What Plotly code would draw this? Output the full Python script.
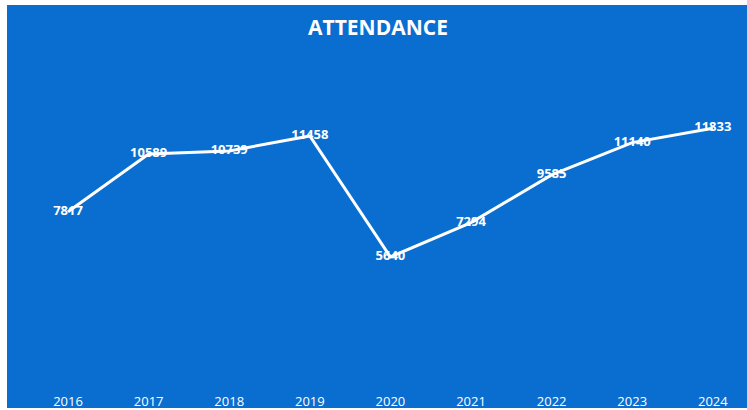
import plotly.graph_objects as go

years = ["2016", "2017", "2018", "2019", "2020", "2021", "2022", "2023", "2024"]
attendance = [7817, 10589, 10739, 11458, 5640, 7294, 9585, 11140, 11833]
labels = [str(v) for v in attendance]
title_text = "ATTENDANCE"

W, H = 747, 410
L, R, T, B = 7, 0, 5, 30
BLUE = "#0a6dd0"

x_idx = list(range(len(years)))

fig = go.Figure()
fig.add_trace(go.Scatter(
    x=x_idx, y=attendance, mode="lines+text",
    line=dict(color="white", width=3),
    text=labels, textposition="middle center",
    textfont=dict(family="Open Sans", size=13, color="white", weight="bold"),
    hoverinfo="skip", showlegend=False,
))

pw, ph = W - L - R, H - T - B
fig.update_layout(
    width=W, height=H,
    margin=dict(l=L, r=R, t=T, b=B, pad=0),
    paper_bgcolor=BLUE, plot_bgcolor=BLUE,
    xaxis=dict(
        range=[-0.757, 8.424], tickmode="array", tickvals=x_idx, ticktext=years,
        showgrid=False, zeroline=False, showline=False,
        ticks="outside", ticklen=9, tickcolor="rgba(0,0,0,0)",
        tickfont=dict(family="Open Sans", size=13, color="white"),
        fixedrange=True,
    ),
    yaxis=dict(
        range=[-274, 17755], showgrid=False, zeroline=False, showline=False,
        showticklabels=False, fixedrange=True,
    ),
    annotations=[dict(
        text=title_text, xref="paper", yref="paper", x=0.502, y=0.941,
        xanchor="center", yanchor="middle", showarrow=False,
        font=dict(family="Open Sans", size=21, color="white", weight="bold"),
    )],
    shapes=[
        dict(type="rect", xref="paper", yref="paper", layer="above",
             x0=-L / pw, x1=0, y0=-B / ph, y1=1 + T / ph,
             fillcolor="white", line=dict(width=0)),
        dict(type="rect", xref="paper", yref="paper", layer="above",
             x0=-L / pw, x1=1, y0=1, y1=1 + T / ph,
             fillcolor="white", line=dict(width=0)),
        dict(type="rect", xref="paper", yref="paper", layer="above",
             x0=-L / pw, x1=1, y0=-B / ph, y1=-(B - 2) / ph,
             fillcolor="white", line=dict(width=0)),
    ],
)

fig.write_html(
    "out.html",
    config={"displayModeBar": False},
    post_script="document.body.style.margin='0';document.body.style.padding='0';document.body.style.overflow='hidden';",
)
